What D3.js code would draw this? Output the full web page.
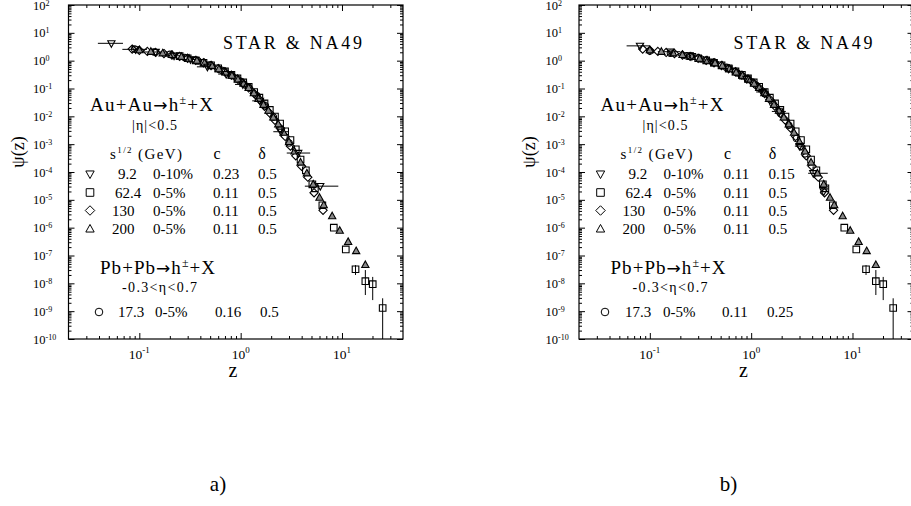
<!DOCTYPE html>
<html>
<head>
<meta charset="utf-8">
<script src="https://cdn.jsdelivr.net/npm/d3@7"></script>
<style>
  body { margin: 0; background: #fff; }
  text { font-family: "Liberation Serif", "DejaVu Serif", serif; fill: #000; }
</style>
</head>
<body>
<div id="chart"></div>
<script>
// axis ranges and ticks
const zDomain = [0.02, 40];
const psiDomain = [1e-10, 1e2];
const yExp = [-10, -9, -8, -7, -6, -5, -4, -3, -2, -1, 0, 1, 2];
const xExp = [-1, 0, 1];

// legend table
const energies = ["9.2", "62.4", "130", "200"];
const centralities = ["0-10%", "0-5%", "0-5%", "0-5%"];
const cA = ["0.23", "0.11", "0.11", "0.11"];
const dA = ["0.5", "0.5", "0.5", "0.5"];
const cB = ["0.11", "0.11", "0.11", "0.11"];
const dB = ["0.15", "0.5", "0.5", "0.5"];
const pbRowA = ["17.3", "0-5%", "0.16", "0.5"];
const pbRowB = ["17.3", "0-5%", "0.11", "0.25"];

// 9.2 GeV (triangle down): [z, psi, zlo, zhi]
const a92 = [
  [0.053, 4.2, 0.039, 0.069], [0.092, 2.55, 0.068, 0.119], [0.145, 2.05, 0.11, 0.19],
  [0.22, 1.5, 0.18, 0.27], [0.32, 1.1, 0.27, 0.38], [0.47, 0.6, 0.37, 0.58],
  [0.72, 0.33, 0.6, 0.86], [1.05, 0.14, 0.88, 1.25], [1.55, 0.036, 1.3, 1.8],
  [2.5, 0.0028, 2.1, 3.0], [3.7, 4.8e-4, 2.85, 4.85], [6.1, 3.1e-5, 4.3, 9.2]
];
const b92 = [
  [0.08, 3.4, 0.059, 0.1], [0.16, 2.1, 0.12, 0.2], [0.26, 1.45, 0.21, 0.31],
  [0.4, 0.92, 0.33, 0.48], [0.6, 0.52, 0.5, 0.72], [0.9, 0.22, 0.76, 1.05],
  [1.3, 0.075, 1.12, 1.5], [1.9, 0.015, 1.6, 2.2], [3.0, 8.5e-4, 2.7, 3.4],
  [4.1, 9e-5, 3.65, 5.7], [5.2, 2e-5, 4.8, 5.8]
];

// 62.4 GeV (square): [z, psi, psiLo, psiHi]
const s624 = [
  [0.25, 1.45], [0.3, 1.22], [0.36, 1.02], [0.43, 0.84], [0.51, 0.68], [0.6, 0.53],
  [0.7, 0.41], [0.81, 0.31], [0.93, 0.23], [1.06, 0.165], [1.2, 0.115], [1.36, 0.075],
  [1.53, 0.047], [1.72, 0.029], [1.94, 0.017], [2.18, 0.0098], [2.45, 0.0055],
  [2.75, 0.0029], [3.1, 0.0014], [3.5, 6.5e-4], [3.9, 2.8e-4], [4.4, 1.15e-4],
  [5.1, 3.6e-5], [5.4, 2.6e-5], [6.4, 6.4e-6], [8.3, 1e-6], [10.9, 1.65e-7],
  [13.6, 3.2e-8, 2e-8, 4.5e-8], [17.0, 1.2e-8, 3.8e-9, 3e-8],
  [20.1, 9.3e-9, 2.5e-9, 1.7e-8], [25.2, 1.3e-9, 1e-10, 2.9e-9]
];

// 130 GeV (diamond)
const s130 = [
  [0.085, 2.6], [0.1, 2.35], [0.12, 2.15], [0.145, 1.98], [0.175, 1.8], [0.21, 1.6],
  [0.25, 1.42], [0.3, 1.22], [0.36, 1.02], [0.43, 0.84], [0.51, 0.67], [0.6, 0.52],
  [0.7, 0.4], [0.81, 0.3], [0.93, 0.22], [1.06, 0.155], [1.2, 0.105], [1.36, 0.066],
  [1.53, 0.04], [1.72, 0.023], [1.94, 0.013], [2.18, 0.0072], [2.45, 0.0038],
  [2.75, 0.0019], [3.1, 8.5e-4], [3.5, 3.8e-4], [4.0, 1.6e-4], [4.6, 6.5e-5],
  [5.3, 1.8e-5], [6.5, 4.2e-6]
];

// 200 GeV (triangle up)
const s200 = [
  [0.1, 2.4], [0.13, 2.1], [0.17, 1.85], [0.21, 1.62], [0.26, 1.38], [0.31, 1.18],
  [0.37, 1.0], [0.44, 0.82], [0.52, 0.66], [0.61, 0.5], [0.71, 0.38], [0.82, 0.29],
  [0.94, 0.21], [1.07, 0.15], [1.2, 0.105], [1.35, 0.068], [1.5, 0.043], [1.68, 0.026],
  [1.88, 0.016], [2.1, 0.0092], [2.35, 0.0052], [2.65, 0.0026], [3.0, 0.0012],
  [3.4, 5.5e-4], [3.9, 2.2e-4], [4.5, 9e-5], [5.2, 3.6e-5], [6.0, 1.2e-5],
  [6.6, 6.5e-6], [8.0, 2.6e-6], [9.5, 7.8e-7], [11.5, 3.1e-7], [13.8, 1.45e-7],
  [17.0, 4.6e-8]
];

// 17.3 GeV Pb+Pb (circle)
const a173 = [
  [0.09, 2.6], [0.14, 2.05], [0.2, 1.68], [0.28, 1.3], [0.38, 0.98], [0.5, 0.7],
  [0.65, 0.45], [0.82, 0.29], [1.0, 0.18], [1.2, 0.11], [1.45, 0.055], [1.75, 0.024],
  [2.1, 0.0095], [2.5, 0.0035], [3.0, 0.0011]
];
const b173 = [
  [0.1, 2.2], [0.16, 1.85], [0.23, 1.5], [0.32, 1.15], [0.43, 0.85], [0.57, 0.57],
  [0.73, 0.36], [0.92, 0.22], [1.12, 0.13], [1.36, 0.066], [1.64, 0.029], [1.97, 0.012],
  [2.35, 0.0048], [2.8, 0.0016], [3.4, 4.5e-4]
];

const svg = d3.select("#chart").append("svg")
  .attr("width", 911).attr("height", 506);

function marker(type, r) {
  // outline symbols, centred on 0,0
  if (type == "sq") return `M${-r},${-r}h${2*r}v${2*r}h${-2*r}Z`;
  if (type == "di") return `M0,${-r*1.25}L${r*1.25},0L0,${r*1.25}L${-r*1.25},0Z`;
  if (type == "tu") return `M0,${-r*1.2}L${r*1.1},${r*0.8}L${-r*1.1},${r*0.8}Z`;
  if (type == "td") return `M0,${r*1.2}L${r*1.1},${-r*0.8}L${-r*1.1},${-r*0.8}Z`;
  return d3.symbol(d3.symbolCircle, Math.PI * r * r)();
}

function addText(g, x, y, size, parts, anchor) {
  const t = g.append("text").attr("x", x).attr("y", y)
    .attr("font-size", size).attr("text-anchor", anchor || "start");
  parts.forEach(p => {
    if (typeof p == "string") t.append("tspan").text(p);
    else {
      const s = t.append("tspan").attr("dy", p.dy || 0).attr("font-size", p.size || size).text(p.t);
      if (p.font) s.style("font-family", p.font);
    }
  });
  return t;
}

function fit(t, len) {
  return t.attr("textLength", len).attr("lengthAdjust", "spacing");
}

function reaction(g, x, y, a, len) {
  return fit(addText(g, x, y, 19, [a, { t: "\u2192", font: "DejaVu Sans", size: 17 },
    "h", { t: "\u00b1", dy: -7, size: 12 }, { t: "+X", dy: 7, size: 19 }]), len);
}

function drawPanel(ox, p) {
  const x = d3.scaleLog().domain(zDomain).range([ox + 68.5, ox + 403]);
  const y = d3.scaleLog().domain(psiDomain).range([339, 5]);
  const g = svg.append("g");

  // minor ticks
  let xMinor = [], yMinor = [];
  for (let d = -2; d <= 1; d++)
    for (let m = 2; m <= 9; m++) {
      const v = m * Math.pow(10, d);
      if (v > zDomain[0] && v < zDomain[1]) xMinor.push(v);
    }
  for (let d = -10; d <= 1; d++)
    for (let m = 2; m <= 9; m++) yMinor.push(m * Math.pow(10, d));
  const xMajor = xExp.map(e => Math.pow(10, e));
  const yMajor = yExp.map(e => Math.pow(10, e));

  function ticks(axis, vals, len, tr) {
    const a = g.append("g").attr("transform", tr)
      .call(axis.tickValues(vals).tickSize(-len).tickFormat(""));
    a.select(".domain").remove();
    a.selectAll("line").attr("stroke", "#000");
  }
  ticks(d3.axisBottom(x), xMajor, 6, "translate(0,339)");
  ticks(d3.axisBottom(x), xMinor, 3, "translate(0,339)");
  ticks(d3.axisTop(x), xMajor, 6, "translate(0,5)");
  ticks(d3.axisTop(x), xMinor, 3, "translate(0,5)");
  ticks(d3.axisLeft(y), yMajor, 6, `translate(${ox + 68.5},0)`);
  ticks(d3.axisLeft(y), yMinor, 3, `translate(${ox + 68.5},0)`);
  ticks(d3.axisRight(y), yMajor, 6, `translate(${ox + 403},0)`);
  ticks(d3.axisRight(y), yMinor, 3, `translate(${ox + 403},0)`);

  g.append("rect").attr("x", ox + 68.5).attr("y", 5)
    .attr("width", 334.5).attr("height", 334)
    .attr("fill", "none").attr("stroke", "#000").attr("stroke-width", 1.2);

  // tick labels
  yExp.forEach(e => addText(g, ox + p.ylabX, y(Math.pow(10, e)) + 4.5, 12.5,
    ["10", { t: String(e), dy: -4, size: 8 }]));
  xExp.forEach(e => addText(g, x(Math.pow(10, e)), 359, 13.5,
    ["10", { t: String(e), dy: -6, size: 9 }], "middle"));

  addText(g, 0, 0, 18, ["\u03c8(z)"], "middle")
    .attr("transform", `translate(${ox + 24},152)rotate(-90)`);
  addText(g, ox + 233, 377, 20, ["z"], "middle");
  addText(g, ox + 218, 491, 21, [p.name + ")"], "middle");

  // data
  const clip = "clip" + p.name;
  g.append("clipPath").attr("id", clip).append("rect")
    .attr("x", ox + 68.5).attr("y", 5).attr("width", 334.5).attr("height", 334);
  const plot = g.append("g").attr("clip-path", `url(#${clip})`);

  const series = [
    { d: p.s173, type: "ci", fill: "none" },
    { d: s130, type: "di", fill: "none" },
    { d: s624, type: "sq", fill: "none" },
    { d: s200, type: "tu", fill: "#888" },
    { d: p.s92, type: "td", fill: "none" }
  ];
  // horizontal bars (9.2 GeV bins)
  plot.selectAll(".hbar").data(p.s92).enter().append("line")
    .attr("x1", d => x(d[2])).attr("x2", d => x(d[3]))
    .attr("y1", d => y(d[1])).attr("y2", d => y(d[1]))
    .attr("stroke", "#000").attr("stroke-width", 1);
  // vertical bars (62.4 GeV at high z)
  plot.selectAll(".vbar").data(s624.filter(d => d.length > 2)).enter().append("line")
    .attr("x1", d => x(d[0])).attr("x2", d => x(d[0]))
    .attr("y1", d => y(d[2])).attr("y2", d => y(d[3]))
    .attr("stroke", "#000").attr("stroke-width", 1);

  series.forEach(s => {
    plot.selectAll(null).data(s.d).enter().append("path")
      .attr("d", marker(s.type, 3.3))
      .attr("transform", d => `translate(${x(d[0])},${y(d[1])})`)
      .attr("fill", s.fill).attr("stroke", "#000").attr("stroke-width", 1.1);
  });

  // annotations
  fit(addText(g, ox + 223, 48.5, 18, ["STAR & NA49"]), 139);
  reaction(g, ox + 90, 111, "Au+Au", 123);
  fit(addText(g, ox + 132, 130, 14, ["|\u03b7|<0.5"]), 45);
  fit(addText(g, ox + 110, 159, 15, ["s", { t: "1/2", dy: -6, size: 9 }, { t: " (GeV)", dy: 6, size: 15 }]), 72);
  addText(g, ox + 217, 159, 16, ["c"], "middle");
  addText(g, ox + 262, 159, 16, ["\u03b4"], "middle");

  const rowY = [179, 197.5, 215.5, 234];
  const rowSym = ["td", "sq", "di", "tu"];
  const numX = [118, 115, 112, 112];
  energies.forEach((e, i) => {
    g.append("path").attr("d", marker(rowSym[i], 3.8))
      .attr("transform", `translate(${ox + 90},${rowY[i] - 5})`)
      .attr("fill", "none").attr("stroke", "#000").attr("stroke-width", 1);
    addText(g, ox + numX[i], rowY[i], 15, [e]);
    addText(g, ox + 153, rowY[i], 15, [centralities[i]]);
    addText(g, ox + 213, rowY[i], 15, [p.c[i]]);
    addText(g, ox + 258, rowY[i], 15, [p.d[i]]);
  });

  reaction(g, ox + 100, 273.5, "Pb+Pb", 115);
  fit(addText(g, ox + 122, 291.5, 14, ["-0.3<\u03b7<0.7"]), 75);
  g.append("path").attr("d", marker("ci", 3.8))
    .attr("transform", `translate(${ox + p.pbX[0]},312)`)
    .attr("fill", "none").attr("stroke", "#000").attr("stroke-width", 1);
  p.pb.forEach((v, i) => addText(g, ox + p.pbX[i + 1], 317, 15, [v]));
}

drawPanel(0, { name: "a", s92: a92, s173: a173, c: cA, d: dA, pb: pbRowA,
  pbX: [99, 118, 155, 215, 260], ylabX: 33 });
drawPanel(510.5, { name: "b", s92: b92, s173: b173, c: cB, d: dB, pb: pbRowB,
  pbX: [94.5, 114.5, 152.5, 211.5, 256.5], ylabX: 35 });
</script>
</body>
</html>
